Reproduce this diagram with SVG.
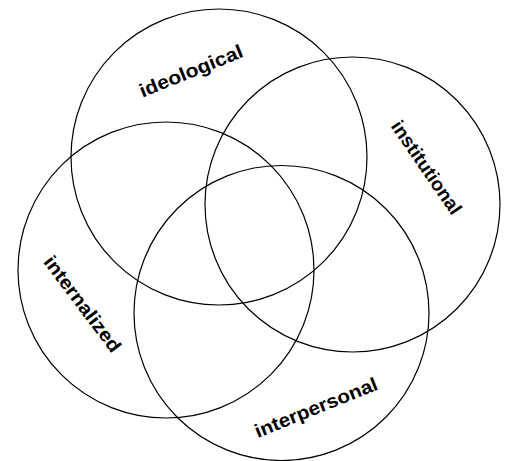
<svg xmlns="http://www.w3.org/2000/svg" width="510" height="461" viewBox="0 0 510 461">
<style>
.c{fill:none;stroke:#000;stroke-width:1.2}
.t{font-family:"Liberation Sans",Arial,sans-serif;font-size:19px;font-weight:bold;fill:#000;text-anchor:middle;dominant-baseline:central}
</style>
<rect width="510" height="461" fill="#fff"/>
<g id="ideological">
<circle class="c" cx="219" cy="157" r="148"/>
<text class="t" x="191" y="71" transform="rotate(-22 191 71)" textLength="110" lengthAdjust="spacingAndGlyphs">ideological</text>
</g>
<g id="institutional">
<circle class="c" cx="352.5" cy="204.5" r="147.5"/>
<text class="t" x="426.5" y="167.5" transform="rotate(55.5 426.5 167.5)" textLength="109" lengthAdjust="spacingAndGlyphs">institutional</text>
</g>
<g id="internalized">
<circle class="c" cx="166" cy="270" r="148"/>
<text class="t" x="82.5" y="304" transform="rotate(53 82.5 304)" textLength="115" lengthAdjust="spacingAndGlyphs">internalized</text>
</g>
<g id="interpersonal">
<circle class="c" cx="281.5" cy="313" r="147.5"/>
<text class="t" x="316" y="407.5" transform="rotate(-22 316 407.5)" textLength="131" lengthAdjust="spacingAndGlyphs">interpersonal</text>
</g>
<g id="connectors"></g>
</svg>
